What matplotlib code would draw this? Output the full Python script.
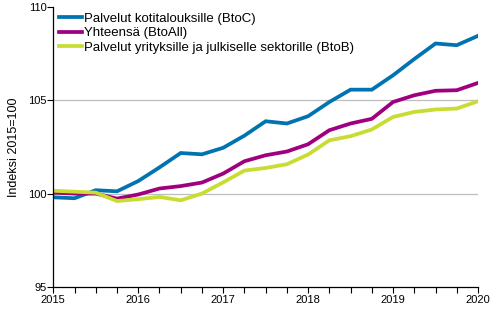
import numpy as np
import matplotlib
matplotlib.use('Agg')
import matplotlib.pyplot as plt

plt.rcParams['font.family'] = ['Liberation Sans', 'DejaVu Sans']

# Quarterly index values, 2015Q1 ... 2020Q1
quarters = np.arange(2015, 2020.01, 0.25)
btoc = [99.8, 99.75, 100.18, 100.12, 100.67, 101.4, 102.17, 102.1, 102.45, 103.1,
        103.87, 103.75, 104.14, 104.9, 105.56, 105.56, 106.33, 107.2, 108.03, 107.94, 108.44]
btoall = [100.05, 100.0, 100.0, 99.73, 99.95, 100.27, 100.4, 100.59, 101.07, 101.73,
          102.05, 102.25, 102.64, 103.39, 103.75, 104.0, 104.9, 105.26, 105.5, 105.53, 105.92]
btob = [100.15, 100.1, 100.05, 99.6, 99.7, 99.82, 99.64, 100.0, 100.6, 101.23,
        101.37, 101.57, 102.09, 102.85, 103.07, 103.43, 104.1, 104.37, 104.5, 104.55, 104.94]

labels = ['Palvelut kotitalouksille (BtoC)', 'Yhteensä (BtoAll)',
          'Palvelut yrityksille ja julkiselle sektorille (BtoB)']
colors = ['#0073B0', '#A0007F', '#C8DC32']

fig = plt.figure(figsize=(5, 3.3), dpi=100)
ax = fig.add_axes([0.1066, 0.1303, 0.8494, 0.8494])

for ys, lab, col in zip([btoc, btoall, btob], labels, colors):
    ax.plot(quarters, ys, color=col, lw=2.7, label=lab, solid_joinstyle='miter')

ax.set_xlim(2015, 2020)
ax.set_ylim(95, 110)
ax.set_yticks([95, 100, 105, 110])
ax.set_xticks(range(2015, 2021))
ax.set_xticks(quarters, minor=True)
ax.tick_params(axis='x', which='both', direction='out', length=4, width=0.8,
               labelsize=8, pad=2)
ax.tick_params(axis='y', direction='out', length=4, width=0.8, labelsize=8, pad=1)

for v in [100, 105]:
    ax.axhline(v, color='#BEBEBE', lw=0.9, zorder=0)

for s in ['top', 'right']:
    ax.spines[s].set_visible(False)
for s in ['left', 'bottom']:
    ax.spines[s].set_linewidth(0.9)

ax.set_ylabel('Indeksi 2015=100', fontsize=9, labelpad=6)

ax.legend(loc='upper left', bbox_to_anchor=(0.0, 1.0), frameon=False, fontsize=9.5,
          handlelength=1.75, handletextpad=0.1, labelspacing=0.18, borderaxespad=0.25,
          borderpad=0.2)

fig.savefig('out.png', dpi=100)
